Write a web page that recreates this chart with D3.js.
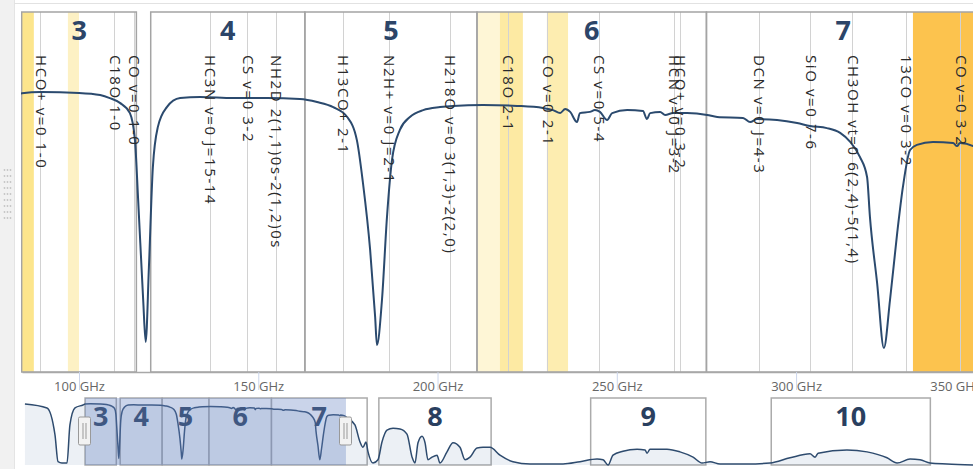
<!doctype html>
<html>
<head>
<meta charset="utf-8">
<title>atmospheric transmission</title>
<style>
  body { margin: 0; background: #fff; }
  svg { display: block; font-family: "Open Sans", "Noto Sans", sans-serif; }
</style>
</head>
<body>
<div id="chart"></div>
<script src="https://d3js.org/d3.v7.min.js"></script>
<script>
// receiver bands (GHz)
const bandNames = ['3', '4', '5', '6', '7', '8', '9', '10'];
const bandLow = [84, 120, 163, 211, 275, 385, 602, 787];
const bandHigh = [116, 163, 211, 275, 373, 500, 720, 950];

// highlighted spectral windows (GHz)
const windowLow = [84, 96.9, 211, 217.4, 230.5, 332.6];
const windowHigh = [87.4, 100, 217.4, 223.8, 236.4, 360];

// molecular lines
const lineNames = ['HCO+ v=0 1-0', 'C18O 1-0', 'CO v=0 1-0', 'HC3N v=0 J=15-14', 'CS v=0 3-2',
  'NH2D 2(1,1)0s-2(1,2)0s', 'H13CO+ 2-1', 'N2H+ v=0 J=2-1', 'H218O v=0 3(1,3)-2(2,0)', 'C18O 2-1',
  'CO v=0 2-1', 'CS v=0 5-4', 'HCN v=0 J=3-2', 'HCO+ v=0 3-2', 'DCN v=0 J=4-3', 'SiO v=0 7-6',
  'CH3OH vt=0 6(2,4)-5(1,4)', '13CO v=0 3-2', 'CO v=0 3-2'];
const lineFreq = [89.19, 109.78, 115.27, 136.46, 146.97, 154.9, 173.51, 186.34, 203.41, 219.56,
  230.54, 244.94, 265.89, 267.56, 289.64, 303.93, 315.6, 330.59, 345.8];

// atmospheric transmission
const freqGHz = [22.4, 45.0, 53.2, 56.3, 60.3, 65.5, 68.5, 73.7, 81.9,
  84.1, 89.4, 100.0, 105.9, 108.6, 111.4, 114.2, 115.6, 116.5, 117.9, 118.6, 119.5, 120.6, 122.0,
  124.5, 128.2, 133.8, 143.0, 152.4, 161.6, 166.4, 170.9, 174.8, 177.5, 179.2, 181.2, 182.6, 183.1,
  184.5, 185.9, 187.3, 189.5, 192.3, 196.0, 200.7, 204.3, 212.7, 222.2, 229.4, 232.2, 234.2, 235.6,
  237.0, 238.9, 239.7, 242.5, 243.9, 245.3, 247.3, 248.7, 252.9, 257.3, 258.4, 259.3, 262.1, 263.5,
  265.7, 269.6, 275.2, 278.0, 285.2, 287.2, 289.1, 294.7, 300.3, 303.9, 308.6, 312.3, 315.1, 317.8,
  319.8, 320.6, 322.6, 324.5, 326.2, 328.2, 329.8, 331.8, 333.7, 338.2, 343.8, 344.9, 345.7, 349.4,
  352.4, 360.5, 365.7, 368.7, 371.8, 373.9, 379.0, 384.1, 388.2, 393.3, 399.5, 406.7, 413.8, 419.0,
  422.0, 425.1, 429.2, 432.3, 435.3, 439.4, 444.6, 447.6, 454.8, 461.0, 468.1, 473.3, 478.4, 485.6,
  491.7, 498.9, 509.1, 522.4, 539.9, 573.7, 591.1, 608.5, 614.7, 619.8, 624.9, 635.1, 649.5, 657.7,
  659.7, 662.8, 680.2, 693.5, 706.9, 716.1, 724.3, 734.5, 762.2, 785.8, 806.3, 826.7, 831.9, 835.0,
  864.6, 885.1, 905.6, 915.9, 929.2, 939.4, 949.7, 967.1, 993.7];
const transmission = [0.93, 0.87, 0.46, 0.05, 0.03, 0.03, 0.61, 0.87, 0.915,
  0.929, 0.933, 0.930, 0.923, 0.913, 0.897, 0.863, 0.773, 0.573, 0.240, 0.100, 0.350, 0.683, 0.817,
  0.883, 0.913, 0.917, 0.913, 0.913, 0.910, 0.900, 0.883, 0.850, 0.773, 0.630, 0.407, 0.183, 0.090,
  0.240, 0.517, 0.707, 0.807, 0.850, 0.873, 0.883, 0.887, 0.890, 0.887, 0.880, 0.873, 0.863, 0.877,
  0.867, 0.833, 0.863, 0.867, 0.873, 0.867, 0.840, 0.863, 0.873, 0.870, 0.843, 0.863, 0.867, 0.857,
  0.863, 0.863, 0.857, 0.850, 0.847, 0.833, 0.843, 0.840, 0.830, 0.820, 0.813, 0.797, 0.767, 0.717,
  0.650, 0.517, 0.297, 0.080, 0.240, 0.463, 0.617, 0.740, 0.757, 0.767, 0.763, 0.753, 0.763, 0.753,
  0.72, 0.61, 0.35, 0.27, 0.35, 0.20, 0.03, 0.08, 0.35, 0.53, 0.56, 0.55, 0.47, 0.12,
  0.03, 0.34, 0.44, 0.34, 0.08, 0.12, 0.15, 0.03, 0.20, 0.34, 0.27, 0.08, 0.12, 0.26,
  0.27, 0.27, 0.15, 0.05, 0.015, 0.015, 0.05, 0.09, 0.08, 0.0, 0.15, 0.21, 0.24, 0.23,
  0.18, 0.24, 0.24, 0.20, 0.12, 0.03, 0.05, 0.015, 0.015, 0.03, 0.11, 0.17, 0.12, 0.18,
  0.23, 0.20, 0.11, 0.03, 0.09, 0.08, 0.03, 0.015, 0.0];

const tickValues = [100, 150, 200, 250, 300, 350];

// visible zoom range (GHz)
const viewMin = 84.1, viewMax = 351.3;

const W = 973, H = 469;
const svg = d3.select('#chart').append('svg').attr('width', W).attr('height', H);

// page frame: grey strip with grip on the left, thin rule on top
svg.append('rect').attr('width', 14).attr('height', H).attr('fill', '#f1f1f1');
svg.append('line').attr('x1', 14.5).attr('x2', 14.5).attr('y1', 0).attr('y2', H).attr('stroke', '#e4e4e4');
svg.append('line').attr('x1', 14).attr('x2', W).attr('y1', 3.5).attr('y2', 3.5).attr('stroke', '#e2e2e2');
const grip = svg.append('g').attr('fill', '#c4c4c4');
d3.range(9).forEach(r => d3.range(3).forEach(c => {
  grip.append('circle').attr('cx', 4.5 + c * 3).attr('cy', 170 + r * 6).attr('r', 0.9);
}));

// ---------- main chart ----------
const plot = { left: 22, right: 980, top: 12, bottom: 372 };
const x = d3.scaleLinear().domain([viewMin, viewMax]).range([plot.left, plot.right]);
const y = d3.scaleLinear().domain([0, 1.2]).range([plot.bottom, plot.top]);

svg.append('clipPath').attr('id', 'clipMain').append('rect')
  .attr('x', plot.left - 1).attr('y', plot.top - 1)
  .attr('width', plot.right - plot.left + 2).attr('height', plot.bottom - plot.top + 2);
const main = svg.append('g').attr('clip-path', 'url(#clipMain)');

const winFill = ['#fce58c', '#fdf1c4', '#fef6d6', '#fdeaa3', '#fdedb0', '#fcc34e'];
main.selectAll('rect.win').data(windowLow).join('rect')
  .attr('class', 'win')
  .attr('x', d => x(d))
  .attr('width', (d, i) => x(windowHigh[i]) - x(d))
  .attr('y', plot.top).attr('height', plot.bottom - plot.top)
  .attr('fill', (d, i) => winFill[i]);

main.selectAll('line.mol').data(lineFreq).join('line')
  .attr('class', 'mol')
  .attr('x1', d => Math.round(x(d)) + 0.5).attr('x2', d => Math.round(x(d)) + 0.5)
  .attr('y1', plot.top).attr('y2', plot.bottom)
  .attr('stroke', '#d2d2d2').attr('stroke-width', 1);

const mainBands = bandLow.map((lo, i) => i).filter(i => bandLow[i] < viewMax);
main.selectAll('rect.band').data(mainBands).join('rect')
  .attr('class', 'band')
  .attr('x', i => x(bandLow[i])).attr('width', i => x(bandHigh[i]) - x(bandLow[i]))
  .attr('y', plot.top).attr('height', plot.bottom - plot.top)
  .attr('fill', 'none').attr('stroke', '#a4a4a4').attr('stroke-width', 1.5);

main.selectAll('text.bandNum').data(mainBands).join('text')
  .attr('class', 'bandNum')
  .attr('x', i => (Math.max(x(bandLow[i]), plot.left) + Math.min(x(bandHigh[i]), plot.right)) / 2)
  .attr('y', 40)
  .attr('text-anchor', 'middle')
  .attr('font-size', 27).attr('font-weight', 700).attr('fill', '#2c4568')
  .text(i => bandNames[i]);

const idx = d3.range(freqGHz.length);
const mainLine = d3.line()
  .x(i => x(freqGHz[i])).y(i => y(transmission[i]))
  .curve(d3.curveMonotoneX);
main.append('path').datum(idx)
  .attr('d', mainLine)
  .attr('fill', 'none').attr('stroke', '#2b4a6e').attr('stroke-width', 2);

main.selectAll('text.mol').data(lineFreq).join('text')
  .attr('class', 'mol')
  .attr('transform', d => `translate(${x(d) - 4.5},55) rotate(90)`)
  .attr('font-size', 15).attr('letter-spacing', 1.6).attr('fill', '#2a2a2a')
  .text((d, i) => lineNames[i]);

// x axis
const axis = d3.axisBottom(x)
  .tickValues(tickValues)
  .tickFormat(d => d + ' GHz')
  .tickSizeInner(18).tickSizeOuter(0).tickPadding(-8);
const gAxis = svg.append('g').attr('transform', `translate(0,${plot.bottom})`).call(axis);
gAxis.attr('font-family', null).attr('font-size', 13);
gAxis.select('.domain').attr('stroke', '#a8a8a8').attr('stroke-width', 1.5);
gAxis.selectAll('.tick line').attr('stroke', '#ccd6eb');
gAxis.selectAll('.tick text').attr('fill', '#666');
// keep the last label inside the chart box, as the original does
gAxis.selectAll('.tick text').each(function () {
  const b = this.getBBox();
  const tx = +d3.select(this.parentNode).attr('transform').match(/translate\(([-\d.]+)/)[1];
  if (tx + b.x + b.width > 981) d3.select(this).attr('x', 981 - tx - b.width / 2 - b.x - b.width / 2);
});

// ---------- navigator ----------
const nav = { top: 398, bottom: 465 };
const xn = d3.scaleLinear().domain([19.4, 993.7]).range([22, 973]);
const yn = d3.scaleLinear().domain([0, 1]).range([nav.bottom, 399.4]);

const gNav = svg.append('g');
gNav.selectAll('rect.band').data(d3.range(bandNames.length)).join('rect')
  .attr('class', 'band')
  .attr('x', i => xn(bandLow[i])).attr('width', i => xn(bandHigh[i]) - xn(bandLow[i]))
  .attr('y', nav.top).attr('height', nav.bottom - nav.top)
  .attr('fill', '#fff').attr('stroke', '#ababab').attr('stroke-width', 1.5);

gNav.append('path').datum(idx)
  .attr('d', d3.area()
    .x(i => xn(freqGHz[i])).y0(nav.bottom).y1(i => yn(transmission[i]))
    .curve(d3.curveMonotoneX))
  .attr('fill', 'rgba(70,105,160,0.1)');
gNav.append('path').datum(idx)
  .attr('d', d3.line()
    .x(i => xn(freqGHz[i])).y(i => yn(transmission[i]))
    .curve(d3.curveMonotoneX))
  .attr('fill', 'none').attr('stroke', '#2e4b6e').attr('stroke-width', 1.5);

gNav.selectAll('text.bandNum').data(d3.range(bandNames.length)).join('text')
  .attr('class', 'bandNum')
  .attr('x', i => (xn(bandLow[i]) + xn(bandHigh[i])) / 2)
  .attr('y', 426)
  .attr('text-anchor', 'middle')
  .attr('font-size', 27).attr('font-weight', 700).attr('fill', '#2a3f5f')
  .text(i => bandNames[i]);

// selected range mask and handles
const sel0 = xn(viewMin), sel1 = xn(viewMax);
gNav.append('rect')
  .attr('x', sel0).attr('width', sel1 - sel0)
  .attr('y', nav.top).attr('height', nav.bottom - nav.top)
  .attr('fill', 'rgba(102,133,194,0.35)');
[sel0, sel1].forEach(hx => {
  const h = gNav.append('g').attr('transform', `translate(${Math.round(hx) - 0.5},0)`);
  h.append('rect').attr('x', -6).attr('y', 417).attr('width', 12).attr('height', 28)
    .attr('rx', 1.5).attr('fill', '#f2f2f2').attr('stroke', '#999');
  [-1.5, 1.5].forEach(dx => h.append('line')
    .attr('x1', dx).attr('x2', dx).attr('y1', 423).attr('y2', 439)
    .attr('stroke', '#999'));
});
</script>
</body>
</html>
